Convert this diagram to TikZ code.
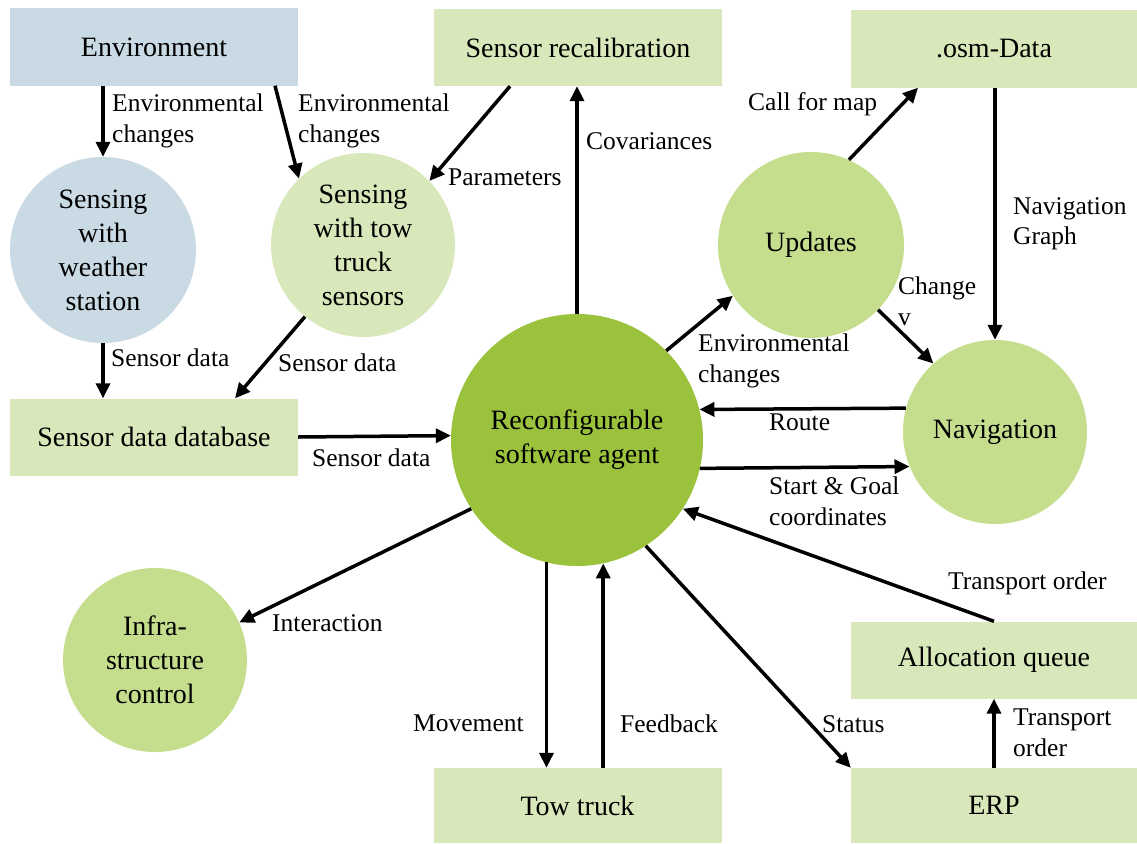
\documentclass[tikz,border=0pt]{standalone}
\usepackage{fontspec}
\setmainfont{Liberation Serif}
\usetikzlibrary{arrows.meta}
\definecolor{envblue}{HTML}{C9DAE4}
\definecolor{boxgreen}{HTML}{D8E8BA}
\definecolor{midgreen}{HTML}{C4DE8D}
\definecolor{agentgreen}{HTML}{9BC23C}
\begin{document}
\begin{tikzpicture}[x=1pt,y=-1pt,
 box/.style={rectangle, minimum width=288pt, minimum height=77pt, inner sep=0pt, font=\fontsize{28}{34}\selectfont},
 proc/.style={circle, inner sep=0pt, align=center, font=\fontsize{28}{34}\selectfont},
 arr/.style={-{Triangle[length=15pt,width=14pt]}, line width=3.5pt},
 lab/.style={anchor=north west, inner sep=0pt, align=left, font=\fontsize{25.5}{30.5}\selectfont}]
\fill[white] (0,0) rectangle (1137,843);
\useasboundingbox (0,0) rectangle (1137,843);

% boxes
\node[box, fill=envblue] (env) at (154,47) {Environment};
\node[box, fill=boxgreen] (recal) at (578,47.5) {Sensor recalibration};
\node[box, fill=boxgreen, minimum width=286pt] (osm) at (994,49) {.osm-Data};
\node[box, fill=boxgreen] (db) at (154,437) {Sensor data database};
\node[box, fill=boxgreen, minimum width=286pt] (alloc) at (994,660) {Allocation queue};
\node[box, fill=boxgreen, minimum height=75pt] (tow) at (577.5,805.5) {Tow truck};
\node[box, fill=boxgreen, minimum width=286pt, minimum height=75pt] (erp) at (994,805.5) {ERP};

% circles
\node[proc, fill=envblue, minimum size=186pt] (wx) at (103,250) {Sensing\\with\\weather\\station};
\node[proc, fill=boxgreen, minimum size=184pt] (tws) at (363,245) {Sensing\\with tow\\truck\\sensors};
\node[proc, fill=agentgreen, minimum size=252pt] (agent) at (577,440) {Reconfigurable\\software agent};
\node[proc, fill=midgreen, minimum size=186pt] (upd) at (811,245) {Updates};
\node[proc, fill=midgreen, minimum size=184pt] (nav) at (995,432) {Navigation};
\node[proc, fill=midgreen, minimum size=184pt] (infra) at (155,660) {Infra-\\structure\\control};

% connectors
\draw[arr] (wx.north |- env.south) -- (wx.north);
\draw[arr] ([xshift=121pt]env.south) -- (tws.134);
\draw[arr] ([xshift=-68pt]recal.south) -- (tws.44);
\draw[arr] (agent.north) -- (agent.north |- recal.south);
\draw[arr] (wx.south) -- (wx.south |- db.north);
\draw[arr] (tws.231.5) -- ([xshift=81pt]db.north);
\draw[arr] (db.east) -- (agent.178.6);
\draw[arr] (agent.45) -- (upd.213);
\draw[arr] (upd.66) -- ([xshift=-76pt]osm.south);
\draw[arr] (osm.south -| nav.north) -- (nav.north);
\draw[arr] (upd.316) -- (nav.132);
\draw[arr] (nav.165) -- (agent.14.7);
\draw[arr] (agent.347.6) -- (nav.202.4);
\draw[arr] (alloc.north) -- (agent.327);
\draw[arr] (agent.213) -- (infra.24);
\draw[arr] (agent.256.7) -- (agent.256.7 |- tow.north);
\draw[arr] (agent.282.8 |- tow.north) -- (agent.282.8);
\draw[arr] (agent.303.3) -- (erp.north west);
\draw[arr] (erp.north) -- (alloc.south);

% labels
\node[lab] (l1) at (112,94) {Environmental\\changes};
\node[lab] (l2) at (298,94) {Environmental\\changes};
\node[lab] (l3) at (448,169) {Parameters};
\node[lab] (l4) at (586,132) {Covariances};
\node[lab] (l5) at (111,349) {Sensor data};
\node[lab] (l6) at (278,354) {Sensor data};
\node[lab] (l7) at (312,449) {Sensor data};
\node[lab] (l8) at (698,334) {Environmental\\changes};
\node[lab] (l9) at (769,414) {Route};
\node[lab] (l10) at (769,477) {Start \& Goal\\coordinates};
\node[lab] (l11) at (748,92) {Call for map};
\node[lab] (l12) at (1013,197) {Navigation\\Graph};
\node[lab] (l13) at (898,277) {Change\\v};
\node[lab] (l14) at (948,572) {Transport order};
\node[lab] (l15) at (272,614) {Interaction};
\node[lab] (l16) at (413,715) {Movement};
\node[lab] (l17) at (620,715) {Feedback};
\node[lab] (l18) at (822,715) {Status};
\node[lab] (l19) at (1013,709) {Transport\\order};
\end{tikzpicture}
\end{document}
